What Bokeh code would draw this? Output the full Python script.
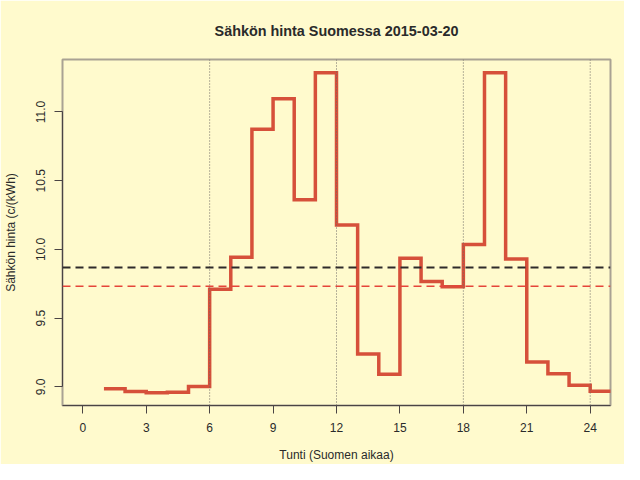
from bokeh.plotting import figure
from bokeh.models import Range1d, FixedTicker, Span, ColumnDataSource, CustomJSTickFormatter
from bokeh.embed import file_html
from bokeh.resources import INLINE

# ---- data ----
hours = list(range(1, 25))
price = [8.985, 8.966, 8.956, 8.961, 9.003, 9.710, 9.942, 10.874,
         11.097, 10.361, 11.286, 10.178, 9.239, 9.092, 9.935, 9.766,
         9.728, 10.035, 11.286, 9.931, 9.181, 9.095, 9.011, 8.968]
ref_black = 9.868     # black dashed reference level
ref_red = 9.731       # red dashed level (day average)
vlines = [6, 12, 18, 24]
x_ticks = [0, 3, 6, 9, 12, 15, 18, 21, 24]
y_ticks = [9.0, 9.5, 10.0, 10.5, 11.0]

title_text = "Sähkön hinta Suomessa 2015-03-20"
x_label = "Tunti (Suomen aikaa)"
y_label = "Sähkön hinta (c/(kWh)"

BG = "#FFFACD"
FONT = "Liberation Sans"
TXT = "#2a2a2a"

# step line: last hour extends one more hour
step_x = hours + [hours[-1] + 1]
step_y = price + [price[-1]]
src = ColumnDataSource(dict(x=step_x, y=step_y))

p = figure(width=624, height=464, output_backend="svg", toolbar_location=None,
           x_range=Range1d(-0.96, 24.96), y_range=Range1d(8.864, 11.382),
           min_border_left=59, min_border_right=14, min_border_top=59,
           min_border_bottom=58, background_fill_color=BG,
           border_fill_color=BG, title=title_text)

p.title.align = "center"
p.title.text_font = FONT
p.title.text_font_size = "14.4px"
p.title.text_font_style = "bold"
p.title.text_color = TXT
p.title.standoff = 41

p.outline_line_color = "#a9a293"
p.outline_line_width = 2
p.grid.visible = False

for ax in (p.xaxis[0], p.yaxis[0]):
    ax.major_label_text_font = FONT
    ax.major_label_text_font_size = "12px"
    ax.major_label_text_color = TXT
    ax.axis_label_text_font = FONT
    ax.axis_label_text_font_size = "12px"
    ax.axis_label_text_font_style = "normal"
    ax.axis_label_text_color = TXT
    ax.major_tick_out = 8
    ax.major_tick_in = 0
    ax.minor_tick_out = 0
    ax.minor_tick_in = 0
    ax.major_tick_line_color = "#4a4444"
    ax.axis_line_color = "#4a4444"

p.xaxis.ticker = FixedTicker(ticks=x_ticks)
p.xaxis.axis_label = x_label
p.xaxis.major_label_standoff = 9
p.xaxis.axis_label_standoff = 13

p.yaxis.ticker = FixedTicker(ticks=y_ticks)
p.yaxis.bounds = (y_ticks[0], y_ticks[-1])
p.yaxis.formatter = CustomJSTickFormatter(code="return tick.toFixed(1);")
p.yaxis.major_label_orientation = "vertical"
p.yaxis.axis_label = y_label
p.yaxis.major_label_standoff = 9
p.yaxis.axis_label_standoff = 16

for v in vlines:
    p.add_layout(Span(location=v, dimension="height", line_color="#6e6a66",
                      line_width=1, line_dash="1 2"))

p.add_layout(Span(location=ref_black, dimension="width", line_color="#2e2a2a",
                  line_width=2, line_dash="8 5"))
p.add_layout(Span(location=ref_red, dimension="width", line_color="#e5453a",
                  line_width=1.5, line_dash="8 5"))

p.step(x="x", y="y", source=src, mode="after", line_color="#d6503a",
       line_width=3.5, line_join="miter")

open("out.html", "w").write(file_html(p, INLINE))
